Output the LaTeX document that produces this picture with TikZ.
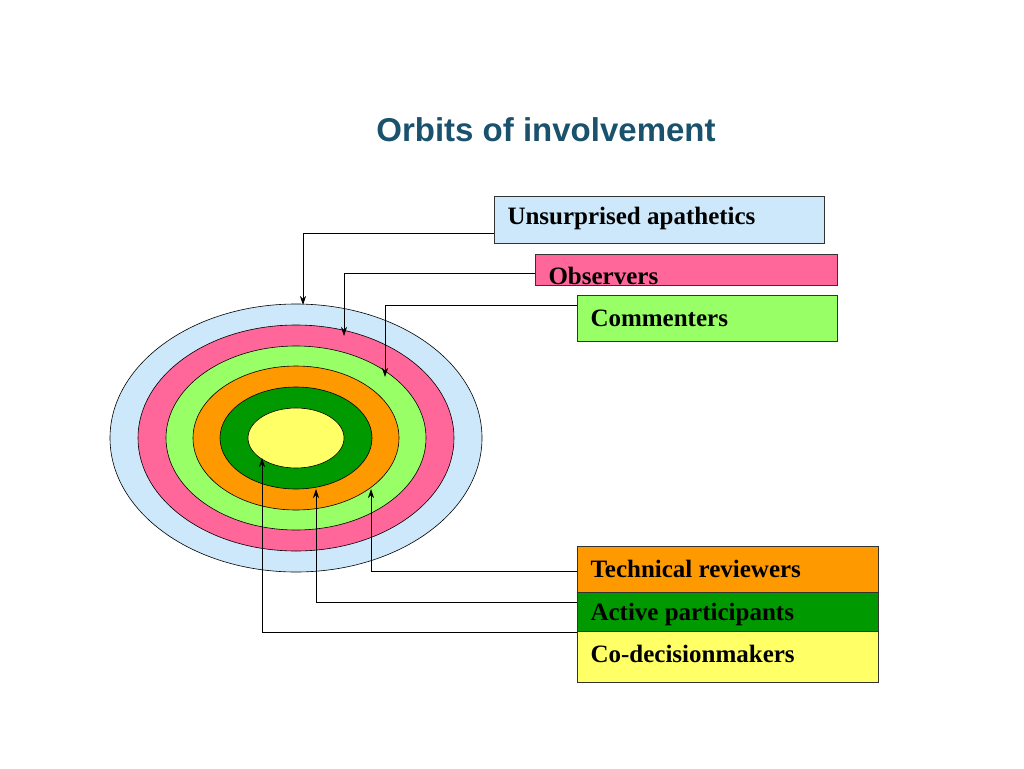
\documentclass[tikz,border=0pt]{standalone}
\usepackage{fontspec}
\setmainfont{Liberation Serif}
\newfontfamily\titlefont{Liberation Sans}
\usetikzlibrary{shapes.geometric,arrows.meta}
\definecolor{cblue}{RGB}{204,232,250}
\definecolor{cpink}{RGB}{255,102,153}
\definecolor{clgreen}{RGB}{153,255,102}
\definecolor{corange}{RGB}{255,153,0}
\definecolor{cdgreen}{RGB}{0,153,0}
\definecolor{cyellow}{RGB}{255,255,102}
\definecolor{ctitle}{RGB}{26,82,110}
\tikzset{
 orb/.style={ellipse,draw=black,line width=0.6pt,inner sep=0pt},
 lbox/.style={draw=black!80,line width=0.6pt,anchor=north west,inner sep=0pt},
 ltext/.style={anchor=west,font=\bfseries\fontsize{25}{28}\selectfont},
 conn/.style={line width=0.7pt,-{Stealth[length=9pt,width=6pt]}}
}
\begin{document}
\begin{tikzpicture}[x=1pt,y=-1pt]
\useasboundingbox (0,0) rectangle (1024,768);
\node[font=\titlefont\bfseries\fontsize{33}{38}\selectfont,text=ctitle] (title) at (546,130) {Orbits of involvement};
\node[orb,fill=cblue,minimum width=372,minimum height=268] (e1) at (296,438) {};
\node[orb,fill=cpink,minimum width=316,minimum height=226] (e2) at (296,438) {};
\node[orb,fill=clgreen,minimum width=260,minimum height=184] (e3) at (296,438) {};
\node[orb,fill=corange,minimum width=206,minimum height=144] (e4) at (296,438) {};
\node[orb,fill=cdgreen,minimum width=152,minimum height=102] (e5) at (296,438) {};
\node[orb,fill=cyellow,minimum width=96,minimum height=60] (e6) at (296,438) {};
% boxes
\node[lbox,fill=cblue,minimum width=330,minimum height=47] (ua) at (494,196) {};
\node[ltext] (uat) at (504,218) {Unsurprised apathetics};
\node[lbox,fill=cpink,minimum width=302,minimum height=31] (ob) at (535,254) {};
\node[ltext] (obt) at (545,276) {Observers};
\node[lbox,fill=clgreen,minimum width=260,minimum height=46] (co) at (577,295) {};
\node[ltext] (cot) at (587,318) {Commenters};
\node[lbox,fill=corange,minimum width=301,minimum height=46] (tr) at (577,546) {};
\node[ltext] (trt) at (587,569) {Technical reviewers};
\node[lbox,fill=cdgreen,minimum width=301,minimum height=39] (ap) at (577,592) {};
\node[ltext] (apt) at (587,614) {Active participants};
\node[lbox,fill=cyellow,minimum width=301,minimum height=51] (cd) at (577,631) {};
\node[ltext] (cdt) at (587,654) {Co-decisionmakers};
% targets
\coordinate (t1) at (303,305);
\coordinate (t2) at (344,336);
\coordinate (t3) at (385,377);
\coordinate (t4) at (371,489);
\coordinate (t5) at (316,489);
\coordinate (t6) at (262,458);
\draw[conn] ([yshift=-13.5pt]ua.west) -| (t1);
\draw[conn] ([yshift=-4pt]ob.west) -| (t2);
\draw[conn] ([yshift=13pt]co.west) -| (t3);
\draw[conn] ([yshift=-2pt]tr.west) -| (t4);
\draw[conn] ([yshift=9.5pt]ap.west) -| (t5);
\draw[conn] ([yshift=-1pt]cd.north west) -| (t6);
\end{tikzpicture}
\end{document}
